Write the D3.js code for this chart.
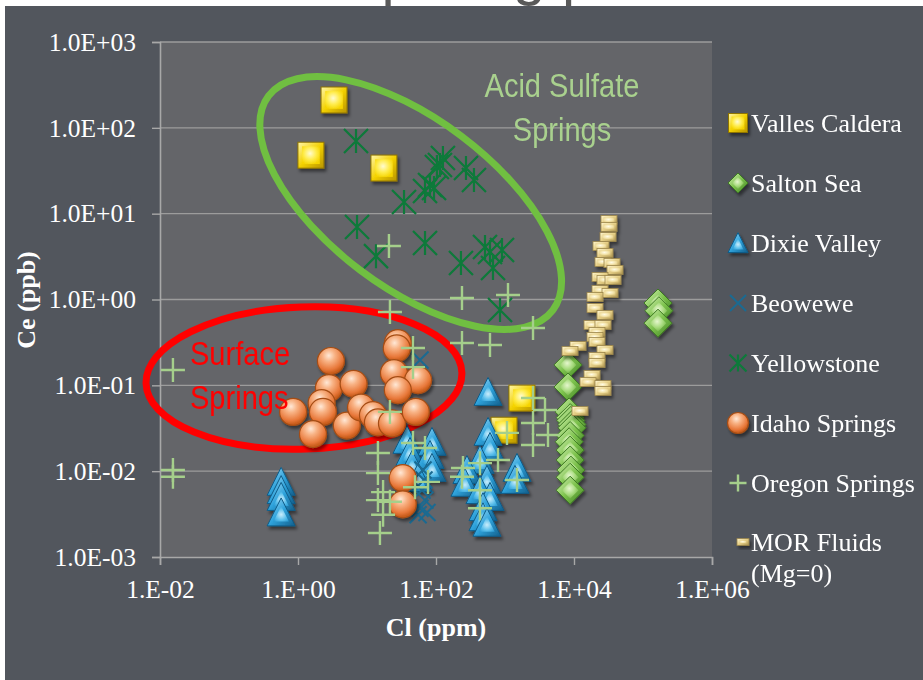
<!DOCTYPE html>
<html>
<head>
<meta charset="utf-8">
<script src="https://cdn.jsdelivr.net/npm/d3@7"></script>
<style>
  html, body { margin: 0; padding: 0; background: #ffffff; }
  svg { display: block; }
</style>
</head>
<body>
<svg id="chart" width="923" height="680"></svg>
<script>
// ---- Axis ticks ----
const xTickValues = [1e-2, 1e0, 1e2, 1e4, 1e6];
const xTickLabels = ["1.E-02", "1.E+00", "1.E+02", "1.E+04", "1.E+06"];
const yTickValues = [1e-3, 1e-2, 1e-1, 1e0, 1e1, 1e2, 1e3];
const yTickLabels = ["1.0E-03", "1.0E-02", "1.0E-01", "1.0E+00", "1.0E+01", "1.0E+02", "1.0E+03"];

// ---- Series (Cl in ppm, Ce in ppb) ----
const seriesNames = ["Valles Caldera", "Salton Sea", "Dixie Valley", "Beowewe",
                     "Yellowstone", "Idaho Springs", "Oregon Springs", "MOR Fluids"];

const vallesCl = [3.33, 1.54, 17.6, 1760, 968];
const vallesCe = [211, 48, 34, 0.071, 0.030];

const saltonCl = [8190, 8190, 8500, 8800, 9000, 9350, 9350, 8800, 8500, 8800, 8800, 9000, 8800, 8800, 165000, 170000, 165000];
const saltonCe = [0.173, 0.0955, 0.049, 0.042, 0.039, 0.035, 0.032, 0.026, 0.022, 0.0176, 0.0135, 0.0103, 0.0085, 0.006, 0.91, 0.74, 0.53];

const dixieCl = [0.57, 0.57, 0.57, 0.57,
                 38, 87.5, 42, 82, 45, 87.5, 55,
                 568, 568, 606, 434, 281, 263, 548, 434, 606, 480, 480, 548, 1493, 1396];
const dixieCe = [0.0075, 0.006, 0.005, 0.0033,
                 0.0231, 0.0219, 0.0167, 0.0154, 0.0118, 0.0109, 0.0083,
                 0.0836, 0.0286, 0.0191, 0.0135, 0.0103, 0.0073, 0.0079, 0.006, 0.005, 0.0038, 0.0029, 0.0025, 0.0109, 0.0079];

const beoweweCl = [58.6, 64.8, 67, 62.7, 69, 58.6, 74, 55];
const beoweweCe = [0.197, 0.0103, 0.0079, 0.006, 0.0046, 0.0037, 0.0033, 0.0031];

const yellowstoneCl = [6.93, 7.17, 13.5, 34.4, 69.3, 81.9, 93.6, 103, 114, 126, 272, 355, 69.3, 230, 513, 606, 905, 670, 847];
const yellowstoneCe = [70.3, 7.0, 3.2, 13.7, 18.4, 21.6, 19.9, 35, 36.9, 44.5, 34, 24.7, 4.55, 2.66, 4.09, 3.57, 3.77, 2.33, 0.755];

const idahoCl = [3.0, 2.81, 6.4, 0.85, 2.2, 2.3, 1.65, 5.1, 8.2, 12.2, 14.4, 23, 28, 27, 24.6, 55, 28, 51, 33, 33];
const idahoCe = [0.192, 0.093, 0.104, 0.049, 0.062, 0.049, 0.027, 0.034, 0.055, 0.045, 0.037, 0.036, 0.31, 0.27, 0.139, 0.115, 0.088, 0.049, 0.0083, 0.0041];

const oregonCl = [0.0154, 0.0154, 0.0154, 20.8, 238, 1105, 2547, 46.4, 46.4, 238, 606, 21.5, 21.5,
                  14.4, 14.4, 17.1, 14.4, 21.5, 17.1, 15.4, 49.6, 46.4, 69.3, 76.6,
                  246, 238, 434, 434, 434, 792, 1069, 1493, 2547, 3800, 2547, 2547, 4198];
const oregonCe = [0.151, 0.0103, 0.0086, 4.2, 1.04, 1.13, 0.466, 0.272, 0.163, 0.311, 0.295, 0.049, 0.714,
                  0.0163, 0.0095, 0.0057, 0.0046, 0.0044, 0.0031, 0.0019, 0.0065, 0.0213, 0.0186, 0.0075,
                  0.0109, 0.0086, 0.0124, 0.006, 0.0037, 0.0135, 0.0279, 0.0079, 0.0711, 0.0515, 0.0364, 0.0202, 0.0264];

const morCl = [32140, 32140, 31120, 24600, 28130, 26300, 35560, 39260, 23820, 28130, 36730, 23820, 33270,
               20150, 20150, 28130, 18240, 26300, 21530, 20150, 21530, 28130, 11430, 8750, 21530, 21530,
               18240, 15960, 26300, 26300, 12220];
const morCe = [8.44, 7.0, 5.35, 4.2, 3.48, 2.73, 2.66, 2.21, 1.83, 1.69, 1.69, 1.29, 1.19,
               1.07, 0.796, 0.659, 0.505, 0.505, 0.418, 0.366, 0.32, 0.258, 0.287, 0.251, 0.214, 0.182,
               0.132, 0.109, 0.101, 0.0859, 0.0502];

// ---- Layout ----
const W = 923, H = 680;
const plot = { left: 160, right: 712, top: 42, bottom: 557 };

const svg = d3.select("#chart");
const defs = svg.append("defs");

// gradients for the bevelled markers
function radial(id, stops, cx = "45%", cy = "40%") {
  const g = defs.append("radialGradient").attr("id", id).attr("cx", cx).attr("cy", cy).attr("r", "65%");
  stops.forEach(([o, c]) => g.append("stop").attr("offset", o).attr("stop-color", c));
}
function linear(id, stops) {
  const g = defs.append("linearGradient").attr("id", id).attr("x1", "0").attr("y1", "0").attr("x2", "1").attr("y2", "1");
  stops.forEach(([o, c]) => g.append("stop").attr("offset", o).attr("stop-color", c));
}
linear("yelEdge", [["0", "#fff6a8"], ["0.5", "#f2d000"], ["1", "#b89400"]]);
radial("yelFace", [["0", "#fffbd0"], ["0.55", "#ffec4a"], ["1", "#f5d400"]]);
linear("grnEdge", [["0", "#d8f2b8"], ["0.5", "#7cc24c"], ["1", "#3f7f23"]]);
radial("grnFace", [["0", "#e4f6cc"], ["0.55", "#a6da7c"], ["1", "#6fb144"]]);
linear("bluEdge", [["0", "#a9def7"], ["0.5", "#2fa3dc"], ["1", "#135f8c"]]);
radial("bluFace", [["0", "#c9ecfb"], ["0.55", "#5cc0ec"], ["1", "#2596d0"]], "50%", "55%");
radial("orgFace", [["0", "#ffe8d6"], ["0.35", "#f8b284"], ["0.8", "#e8783a"], ["1", "#c95d1c"]], "42%", "30%");
linear("tanEdge", [["0", "#fff6d0"], ["0.5", "#e6cf86"], ["1", "#a8904e"]]);
radial("tanFace", [["0", "#fffbe6"], ["0.6", "#f3e3a8"], ["1", "#dcc47c"]]);

const shadow = defs.append("filter").attr("id", "shadow")
  .attr("x", "-60%").attr("y", "-60%").attr("width", "220%").attr("height", "220%");
shadow.append("feDropShadow").attr("dx", 2).attr("dy", 3).attr("stdDeviation", 1.6)
  .attr("flood-color", "#000").attr("flood-opacity", 0.45);

// ---- Backgrounds ----
// slide title above the chart panel (mostly covered by the panel)
svg.append("text")
  .attr("x", 257).attr("y", -6)
  .attr("font-family", "'Liberation Sans', Arial, sans-serif")
  .attr("font-size", 59).attr("fill", "#595959")
  .text("Comparing plots");

svg.append("rect").attr("x", 5).attr("y", 6).attr("width", W - 5).attr("height", H - 6).attr("fill", "#52565d");
svg.append("rect")
  .attr("x", plot.left).attr("y", plot.top)
  .attr("width", plot.right - plot.left).attr("height", plot.bottom - plot.top)
  .attr("fill", "#646569");

// ---- Scales ----
const x = d3.scaleLog().domain([1e-2, 1e6]).range([plot.left, plot.right]);
const y = d3.scaleLog().domain([1e-3, 1e3]).range([plot.bottom, plot.top]);

// gridlines
svg.append("g").selectAll("line")
  .data(yTickValues.filter(v => v > 1e-3))
  .join("line")
  .attr("x1", plot.left).attr("x2", plot.right)
  .attr("y1", d => y(d)).attr("y2", d => y(d))
  .attr("stroke", "#9c9c9c").attr("stroke-width", 1.4);

const serif = "'Liberation Serif', 'Times New Roman', serif";

// axes
const xAxis = svg.append("g")
  .attr("transform", `translate(0,${plot.bottom})`)
  .call(d3.axisBottom(x).tickValues(xTickValues).tickFormat((d, i) => xTickLabels[i]).tickSize(8).tickPadding(15));
const yAxis = svg.append("g")
  .attr("transform", `translate(${plot.left},0)`)
  .call(d3.axisLeft(y).tickValues(yTickValues).tickFormat((d, i) => yTickLabels[i]).tickSize(8).tickPadding(16));

[xAxis, yAxis].forEach(a => {
  a.select(".domain").attr("stroke", "#a8a8a8").attr("stroke-width", 1.6);
  a.selectAll(".tick line").attr("stroke", "#a8a8a8").attr("stroke-width", 1.4);
  a.selectAll(".tick text").attr("fill", "#ffffff").attr("font-family", serif).attr("font-size", 25.5);
});

// axis titles
svg.append("text")
  .attr("x", 436).attr("y", 636)
  .attr("text-anchor", "middle")
  .attr("font-family", serif).attr("font-weight", "bold").attr("font-size", 26)
  .attr("fill", "#ffffff")
  .text("Cl (ppm)");
svg.append("text")
  .attr("transform", "translate(35,300) rotate(-90)")
  .attr("text-anchor", "middle")
  .attr("font-family", serif).attr("font-weight", "bold").attr("font-size", 26)
  .attr("fill", "#ffffff")
  .text("Ce (ppb)");

// ---- Grouping ellipses ----
const acidEllipse = { cl: 43, ce: 13.3, rx: 178, ry: 84, angle: 37 };
const surfaceEllipse = { cl: 1.22, ce: 0.1217, rx: 158, ry: 71, angle: -2 };

function drawEllipse(e, color) {
  const cx = x(e.cl), cy = y(e.ce);
  svg.append("ellipse")
    .attr("cx", 0).attr("cy", 0).attr("rx", e.rx).attr("ry", e.ry)
    .attr("transform", `translate(${cx},${cy}) rotate(${e.angle})`)
    .attr("fill", "none").attr("stroke", color).attr("stroke-width", 7);
}
drawEllipse(acidEllipse, "#70bf41");
drawEllipse(surfaceEllipse, "#ff0000");

// ---- Marker shapes ----
function drawMarker(g, type, s) {
  const h = s / 2;
  switch (type) {
    case "square":
      g.append("rect").attr("x", -h).attr("y", -h).attr("width", s).attr("height", s)
        .attr("fill", "url(#yelEdge)").attr("stroke", "#8f7400").attr("stroke-width", 1);
      g.append("rect").attr("x", -h + s * 0.16).attr("y", -h + s * 0.16)
        .attr("width", s * 0.68).attr("height", s * 0.68).attr("fill", "url(#yelFace)");
      break;
    case "diamond":
      g.append("path").attr("d", `M0,${-h}L${h},0L0,${h}L${-h},0Z`)
        .attr("fill", "url(#grnEdge)").attr("stroke", "#3d7a22").attr("stroke-width", 1);
      g.append("path").attr("d", `M0,${-h * 0.6}L${h * 0.6},0L0,${h * 0.6}L${-h * 0.6},0Z`)
        .attr("fill", "url(#grnFace)");
      break;
    case "triangle": {
      const t = s * 0.52;
      g.append("path").attr("d", `M0,${-t}L${h},${t * 0.92}L${-h},${t * 0.92}Z`)
        .attr("fill", "url(#bluEdge)").attr("stroke", "#0f5c88").attr("stroke-width", 1);
      g.append("path").attr("d", `M0,${-t * 0.45}L${h * 0.55},${t * 0.62}L${-h * 0.55},${t * 0.62}Z`)
        .attr("fill", "url(#bluFace)");
      break;
    }
    case "cross":
      g.append("path").attr("d", `M${-h},${-h}L${h},${h}M${-h},${h}L${h},${-h}`)
        .attr("stroke", "#1b6a91").attr("stroke-width", 2).attr("fill", "none");
      break;
    case "asterisk":
      g.append("path").attr("d", `M${-h},${-h}L${h},${h}M${-h},${h}L${h},${-h}M0,${-h}L0,${h}`)
        .attr("stroke", "#0d7a3a").attr("stroke-width", 2.2).attr("fill", "none");
      break;
    case "circle":
      g.append("circle").attr("r", h).attr("fill", "url(#orgFace)")
        .attr("stroke", "#a54d14").attr("stroke-width", 1.2);
      break;
    case "plus":
      g.append("path").attr("d", `M${-h},0L${h},0M0,${-h}L0,${h}`)
        .attr("stroke", "#a5cf8b").attr("stroke-width", 2.4).attr("fill", "none");
      break;
    case "bar": {
      const w = s, hh = s * 0.56;
      g.append("rect").attr("x", -w / 2).attr("y", -hh / 2).attr("width", w).attr("height", hh)
        .attr("fill", "url(#tanEdge)").attr("stroke", "#9c864a").attr("stroke-width", 0.8);
      g.append("rect").attr("x", -w / 2 + 2.5).attr("y", -hh / 2 + 2).attr("width", w - 5).attr("height", hh - 4)
        .attr("fill", "url(#tanFace)");
      break;
    }
  }
}

const series = [
  { name: seriesNames[0], cl: vallesCl, ce: vallesCe, type: "square", size: 26, shadow: true },
  { name: seriesNames[1], cl: saltonCl, ce: saltonCe, type: "diamond", size: 28, shadow: true },
  { name: seriesNames[2], cl: dixieCl, ce: dixieCe, type: "triangle", size: 28, shadow: true },
  { name: seriesNames[3], cl: beoweweCl, ce: beoweweCe, type: "cross", size: 17, shadow: false },
  { name: seriesNames[4], cl: yellowstoneCl, ce: yellowstoneCe, type: "asterisk", size: 24, shadow: false },
  { name: seriesNames[5], cl: idahoCl, ce: idahoCe, type: "circle", size: 27, shadow: true },
  { name: seriesNames[6], cl: oregonCl, ce: oregonCe, type: "plus", size: 24, shadow: false },
  { name: seriesNames[7], cl: morCl, ce: morCe, type: "bar", size: 16, shadow: true }
];

// ---- Points ----
series.forEach(s => {
  const layer = svg.append("g");
  if (s.shadow) layer.attr("filter", "url(#shadow)");
  s.cl.forEach((v, i) => {
    const g = layer.append("g").attr("transform", `translate(${x(v)},${y(s.ce[i])})`);
    drawMarker(g, s.type, s.size);
  });
});

// ---- Annotation labels ----
const narrow = "'Liberation Sans', Arial, sans-serif";
function label(lines, cx, y0, color, anchor) {
  lines.forEach((t, i) => {
    svg.append("text")
      .attr("transform", `translate(${cx},${y0 + i * 44}) scale(0.88,1)`)
      .attr("text-anchor", anchor)
      .attr("font-family", narrow).attr("font-size", 33)
      .attr("fill", color)
      .text(t);
  });
}
label(["Acid Sulfate", "Springs"], 562, 97, "#a9d18e", "middle");
label(["Surface", "Springs"], 190, 365, "#ff0000", "start");

// ---- Legend ----
const legendY = [123, 183, 243, 303, 363, 423, 483, 542];
const legendSize = [19, 20, 20, 16, 17, 21, 17, 12];
series.forEach((s, i) => {
  const mx = s.type === "bar" ? 743 : 738;
  const g = svg.append("g").attr("transform", `translate(${mx},${legendY[i]})`);
  if (s.shadow) g.attr("filter", "url(#shadow)");
  drawMarker(g, s.type, legendSize[i]);
});
const legendText = svg.append("g")
  .attr("font-family", serif).attr("font-size", 26).attr("fill", "#ffffff");
seriesNames.forEach((n, i) => {
  legendText.append("text").attr("x", 751).attr("y", legendY[i] + 8.5).text(n);
});
legendText.append("text").attr("x", 751).attr("y", 582).text("(Mg=0)");
</script>
</body>
</html>
